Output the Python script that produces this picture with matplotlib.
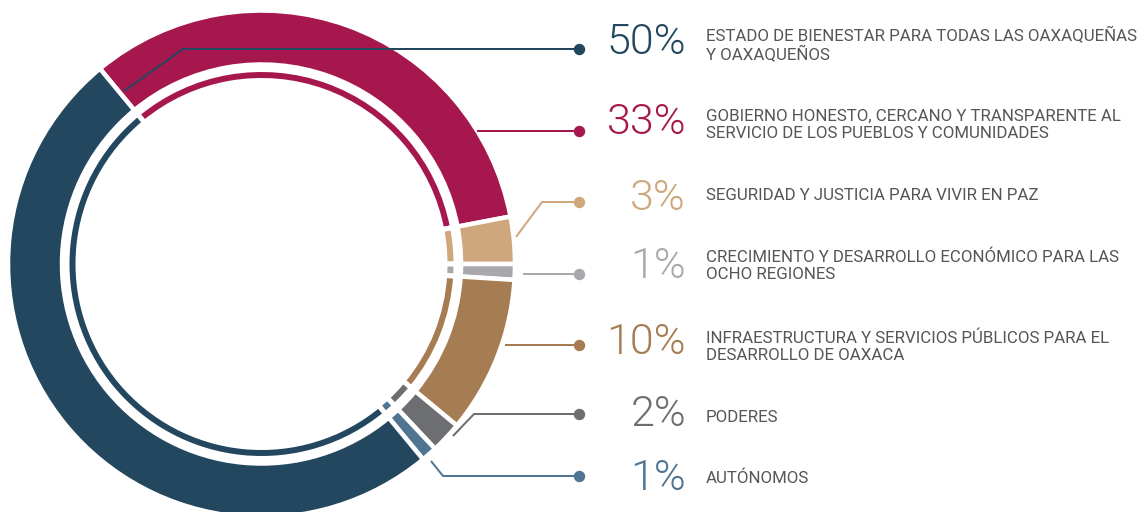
import matplotlib
matplotlib.use("Agg")
import matplotlib.pyplot as plt
from matplotlib import font_manager as fm

# datos (porcentajes por eje), en el orden en que aparecen en el anillo
valores = [33, 3, 1, 10, 2, 1, 50]
colores = ["#A6184D", "#CFA77D", "#A7A9AC", "#A67C52", "#6D6E71", "#4F7592", "#23475E"]

# leyenda de la derecha (orden de arriba a abajo)
pct_textos = ["50%", "33%", "3%", "1%", "10%", "2%", "1%"]
pct_colores = ["#23475E", "#A6184D", "#CFA77D", "#A7A9AC", "#A67C52", "#6D6E71", "#4F7592"]
etiquetas = [
    "ESTADO DE BIENESTAR PARA TODAS LAS OAXAQUEÑAS\nY OAXAQUEÑOS",
    "GOBIERNO HONESTO, CERCANO Y TRANSPARENTE AL\nSERVICIO DE LOS PUEBLOS Y COMUNIDADES",
    "SEGURIDAD Y JUSTICIA PARA VIVIR EN PAZ",
    "CRECIMIENTO Y DESARROLLO ECONÓMICO PARA LAS\nOCHO REGIONES",
    "INFRAESTRUCTURA Y SERVICIOS PÚBLICOS PARA EL\nDESARROLLO DE OAXACA",
    "PODERES",
    "AUTÓNOMOS",
]


def fuente(archivo, respaldo):
    for f in fm.fontManager.ttflist:
        if f.fname.endswith(archivo):
            return fm.FontProperties(fname=f.fname)
    return fm.FontProperties(family=respaldo)


f_pct = fuente("Roboto-Light.ttf", "Roboto")
f_lab = fuente("Roboto-Regular.ttf", "Roboto")

W, H = 1144, 512
fig = plt.figure(figsize=(W / 100, H / 100), dpi=100)
ax = fig.add_axes([0, 0, 1, 1])


def py(y):
    # coordenada y en pixeles (desde arriba) -> datos
    return H - y


centro = (261.5, py(264))
px = 72 / 100  # puntos por pixel

# anillo exterior
ax.pie(valores, colors=colores, startangle=129.6, counterclock=False,
       center=centro, radius=253.5, frame=True,
       wedgeprops=dict(width=54, edgecolor="white", linewidth=4.5 * px))
# anillo interior delgado
ax.pie(valores, colors=colores, startangle=129.6, counterclock=False,
       center=centro, radius=194.5, frame=True,
       wedgeprops=dict(width=11, edgecolor="white", linewidth=5 * px))
ax.set_xlim(0, W)
ax.set_ylim(0, H)
ax.set_aspect("equal")
ax.axis("off")

# lineas guia: puntos (x, y en pixeles)
guias = [
    [(124, 91), (183, 49), (579, 49)],
    [(477, 131), (579, 131)],
    [(516, 237), (542, 202), (579, 202)],
    [(523, 274), (579, 274)],
    [(505, 345), (579, 345)],
    [(453, 436), (474, 414), (579, 414)],
    [(431, 461), (443, 476), (579, 476)],
]
for pts, c in zip(guias, pct_colores):
    xs = [p[0] for p in pts]
    ys = [py(p[1]) for p in pts]
    ax.plot(xs, ys, color=c, lw=2 * px, solid_capstyle="butt", zorder=5)
    ax.plot(xs[-1], ys[-1], "o", color=c, ms=10 * px, zorder=6)

pct_y = [43, 122, 199, 266, 343, 414, 478]
lab_y = [45, 125, 196, 266, 347, 418, 478]
for t, c, e, yp, yl in zip(pct_textos, pct_colores, etiquetas, pct_y, lab_y):
    ax.text(686, py(yp), t, color=c, fontproperties=f_pct, fontsize=31,
            ha="right", va="center")
    ax.text(706, py(yl), e, color="#555555", fontproperties=f_lab, fontsize=12.2,
            ha="left", va="center", linespacing=1.15)

fig.savefig("out.png", dpi=100, facecolor="white")
